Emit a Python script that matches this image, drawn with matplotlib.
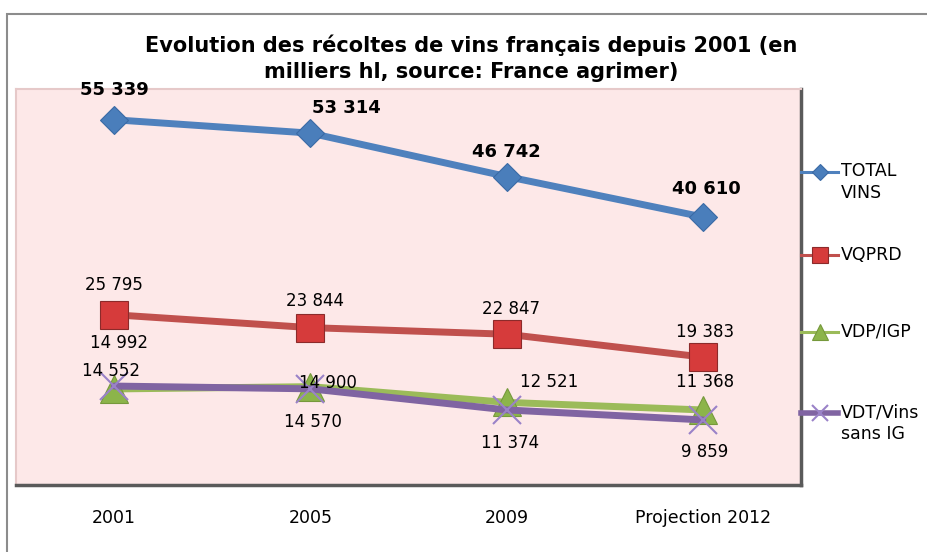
import matplotlib
matplotlib.use("Agg")
import matplotlib.pyplot as plt
from matplotlib.lines import Line2D
from matplotlib.patches import Rectangle

categories = ["2001", "2005", "2009", "Projection 2012"]
total_vins = [55339, 53314, 46742, 40610]
vqprd = [25795, 23844, 22847, 19383]
vdp_igp = [14552, 14900, 12521, 11368]
vdt_sans_ig = [14992, 14570, 11374, 9859]
legend_labels = ["TOTAL\nVINS", "VQPRD", "VDP/IGP", "VDT/Vins\nsans IG"]
title = "Evolution des récoltes de vins français depuis 2001 (en\nmilliers hl, source: France agrimer)"

def fmt(v):
    return f"{v:,}".replace(",", " ")

W, H = 927, 552
fig = plt.figure(figsize=(W / 100, H / 100), dpi=100)
plt.rcParams['font.family'] = ['DejaVu Sans']

# outer chart border (extends past right and bottom edges)
fig.add_artist(Rectangle((7 / W, -0.05), 1.2, (H - 14) / H + 0.05, transform=fig.transFigure,
                         fill=False, edgecolor="#8c8c8c", linewidth=1.5))

ax_l, ax_t, ax_r, ax_b = 16, 89, 801, 485
ax = fig.add_axes([ax_l / W, (H - ax_b) / H, (ax_r - ax_l) / W, (ax_b - ax_t) / H])
ax.set_facecolor("#fde8e8")
ax.set_xlim(-0.5, 3.5)
ax.set_ylim(0, 60000)
ax.set_yticks([])
x = list(range(len(categories)))
ax.set_xticks(x)
ax.set_xticklabels(categories, fontsize=12.5)
ax.tick_params(axis="x", length=0, pad=17)
for s in ["left", "top"]:
    ax.spines[s].set_color("#e6c9c9")
    ax.spines[s].set_linewidth(1.5)
for s in ["right", "bottom"]:
    ax.spines[s].set_color("#5a5a5a")
    ax.spines[s].set_linewidth(2.5)

series = [
    (total_vins, "#4f81bd", dict(marker="D", markersize=14, markerfacecolor="#4a7ebb", markeredgecolor="#3a6aa5", markeredgewidth=0.8)),
    (vqprd, "#c0504d", dict(marker="s", markersize=20, markerfacecolor="#d63b3b", markeredgecolor="#8c2a2a", markeredgewidth=0.8)),
    (vdp_igp, "#9bbb59", dict(marker="^", markersize=20, markerfacecolor="#8cb44a", markeredgecolor="#76993c", markeredgewidth=0.8)),
    (vdt_sans_ig, "#8064a2", dict(marker="x", markersize=20, markeredgecolor="#9a82c8", markeredgewidth=1.5)),
]
for vals, col, mk in series:
    ax.plot(x, vals, color=col, linewidth=5, solid_capstyle="round", **mk, zorder=3)

# data labels (offsets in pixels)
lab_total = [(0, 30), (36, 25), (0, 25), (3, 28)]
lab_vqprd = [(0, 30), (5, 27), (4, 25), (2, 25)]
lab_vdp = [(-3, 18), (18, 4), (43, 20), (2, 28)]
lab_vdt = [(5, 43), (3, -33), (3, -33), (2, -32)]
for vals, offs, bold in [(total_vins, lab_total, True), (vqprd, lab_vqprd, False),
                         (vdp_igp, lab_vdp, False), (vdt_sans_ig, lab_vdt, False)]:
    for xi, v, (dx, dy) in zip(x, vals, offs):
        ax.annotate(fmt(v), (xi, v), xytext=(dx, dy), textcoords="offset pixels",
                    ha="center", va="center", fontsize=13 if bold else 12,
                    fontweight="bold" if bold else "normal", color="black", zorder=5)

fig.text(471 / W, 1 - 58 / H, title, ha="center", va="center", fontsize=15,
         fontweight="bold", linespacing=1.35)

# legend
leg_y = [172, 255, 332, 413]
leg_text_y = [182, 255, 332, 423]
for (vals, col, mk), lab, ly, ty in zip(series, legend_labels, leg_y, leg_text_y):
    mk2 = dict(mk)
    mk2["markersize"] = mk["markersize"] * 0.55
    fig.add_artist(Line2D([801 / W, 838 / W], [1 - ly / H, 1 - ly / H], transform=fig.transFigure,
                          color=col, linewidth=2.2 if col != "#8064a2" else 4))
    fig.add_artist(Line2D([819.5 / W], [1 - ly / H], transform=fig.transFigure, color=col, linestyle="none", **mk2))
    fig.text(841 / W, 1 - ty / H, lab, ha="left", va="center", fontsize=12.5, linespacing=1.25)

fig.savefig("out.png", dpi=100)
